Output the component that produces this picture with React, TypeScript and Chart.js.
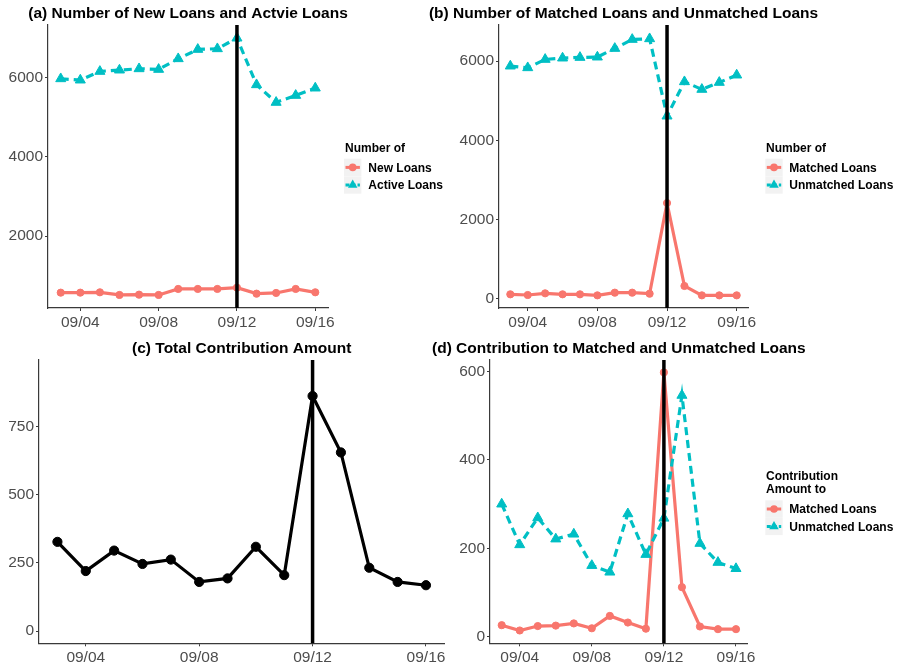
import React, { useEffect, useRef } from 'react';
import { Chart, registerables } from 'chart.js';

Chart.register(...registerables);

// ---------------- data ----------------
const dates = ['09/03', '09/04', '09/05', '09/06', '09/07', '09/08', '09/09', '09/10', '09/11', '09/12', '09/13', '09/14', '09/15', '09/16'];
const xTickLabels = ['09/04', '09/08', '09/12', '09/16'];
const eventDate = '09/12';

const newLoans = [571, 571, 580, 513, 521, 513, 664, 664, 664, 697, 546, 563, 664, 580];
const activeLoans = [5966, 5933, 6151, 6185, 6218, 6202, 6471, 6706, 6723, 6992, 5815, 5370, 5546, 5731];

const matchedLoans = [118, 101, 143, 118, 118, 92, 160, 160, 134, 2420, 328, 92, 92, 92];
const unmatchedLoans = [5874, 5832, 6042, 6076, 6092, 6101, 6319, 6546, 6563, 4613, 5479, 5286, 5462, 5647];

const totalContribution = [327, 220, 295, 246, 262, 180, 193, 309, 205, 862, 655, 232, 180, 168];

const matchedContribution = [26, 14, 24, 25, 30, 19, 47, 32, 18, 598, 112, 23, 17, 17];
const unmatchedContribution = [300, 208, 269, 221, 232, 161, 146, 278, 186, 268, 546, 211, 168, 154];

const yTicksA = [2000, 4000, 6000];
const yTicksB = [0, 2000, 4000, 6000];
const yTicksC = [0, 250, 500, 750];
const yTicksD = [0, 200, 400, 600];

// ---------------- styling ----------------
const RED = '#F8766D';
const TEAL = '#00BFC4';
const FAMILY = '"Liberation Sans", Arial, Helvetica, sans-serif';
const AXIS_COLOR = '#3a3a3a';
const TICK_TEXT = '#4D4D4D';
const TICK_SIZE = 15.5;
const X_MIN = 2.35;
const X_MAX = 16.65;

const dayOf = (d: string) => parseInt(d.split('/')[1], 10);

type Series = {
  label: string;
  values: number[];
  color: string;
  shape: 'circle' | 'triangle';
  dashed: boolean;
  radius: number;
};

type LegendCfg = {
  titleLines: string[];
  titleX: number;
  titleBaselines: number[];
  keyLeft: number;
  labelX: number;
  itemBaselines: number[];
};

type PanelCfg = {
  title: string;
  series: Series[];
  yMin: number;
  yMax: number;
  yTicks: number[];
  box: { left: number; top: number; width: number; height: number };
  area: { left: number; right: number; top: number; bottom: number };
  titleBaseline: number;
  legend?: LegendCfg;
};

function drawMarker(ctx: CanvasRenderingContext2D, shape: string, x: number, y: number, r: number, color: string) {
  ctx.fillStyle = color;
  ctx.beginPath();
  if (shape === 'circle') {
    ctx.arc(x, y, r, 0, Math.PI * 2);
  } else {
    const h = r * 1.5;
    const w = r * 1.732;
    ctx.moveTo(x, y - r);
    ctx.lineTo(x + w / 2, y - r + h);
    ctx.lineTo(x - w / 2, y - r + h);
    ctx.closePath();
  }
  ctx.fill();
}

function makeDecorPlugin(cfg: PanelCfg) {
  return {
    id: 'panelDecor',
    afterDatasetsDraw(chart: any) {
      const { ctx, chartArea, scales } = chart;
      const x = scales.x.getPixelForValue(dayOf(eventDate));
      ctx.save();
      ctx.strokeStyle = '#000';
      ctx.lineWidth = 3.5;
      ctx.setLineDash([]);
      ctx.beginPath();
      ctx.moveTo(x, chartArea.top);
      ctx.lineTo(x, chartArea.bottom);
      ctx.stroke();
      ctx.restore();
    },
    afterDraw(chart: any) {
      const { ctx, chartArea } = chart;
      ctx.save();
      // title
      ctx.font = `bold 15.5px ${FAMILY}`;
      ctx.fillStyle = '#000';
      ctx.textAlign = 'center';
      ctx.textBaseline = 'alphabetic';
      ctx.fillText(cfg.title, (chartArea.left + chartArea.right) / 2, cfg.titleBaseline);

      // legend
      const lg = cfg.legend;
      if (lg) {
        ctx.font = `bold 12px ${FAMILY}`;
        ctx.textAlign = 'left';
        lg.titleLines.forEach((t, i) => ctx.fillText(t, lg.titleX, lg.titleBaselines[i]));
        const keySize = 17.4;
        cfg.series.forEach((s, i) => {
          const cy = lg.itemBaselines[i] - 4.3;
          ctx.fillStyle = '#F2F2F2';
          ctx.fillRect(lg.keyLeft, cy - keySize / 2, keySize, keySize);
          ctx.strokeStyle = s.color;
          ctx.lineWidth = 3;
          ctx.setLineDash(s.dashed ? [4, 2] : []);
          ctx.beginPath();
          ctx.moveTo(lg.keyLeft + 1.5, cy);
          ctx.lineTo(lg.keyLeft + keySize - 1.5, cy);
          ctx.stroke();
          ctx.setLineDash([]);
          drawMarker(ctx, s.shape, lg.keyLeft + keySize / 2, cy, s.shape === 'circle' ? 3.8 : 5.5, s.color);
          ctx.fillStyle = '#000';
          ctx.fillText(s.label, lg.labelX, lg.itemBaselines[i]);
        });
      }
      ctx.restore();
    },
  };
}

function buildConfig(cfg: PanelCfg): any {
  const datasets = cfg.series.map((s, si) => ({
    label: s.label,
    data: dates.map((d, i) => ({ x: dayOf(d), y: s.values[i] })),
    borderColor: s.color,
    backgroundColor: s.color,
    borderWidth: 3.2,
    borderDash: s.dashed ? [8, 5] : [],
    pointStyle: s.shape,
    pointRadius: s.radius,
    pointBorderWidth: 1,
    pointBorderColor: s.color,
    pointBackgroundColor: s.color,
    tension: 0,
    order: cfg.series.length - si,
  }));

  const xH = cfg.box.height - cfg.area.bottom;
  const yW = cfg.area.left;

  return {
    type: 'line',
    data: { datasets },
    plugins: [makeDecorPlugin(cfg)],
    options: {
      animation: false,
      responsive: false,
      devicePixelRatio: 1,
      events: [],
      layout: {
        padding: { left: 0, top: cfg.area.top, right: cfg.box.width - cfg.area.right, bottom: 0 },
      },
      plugins: {
        legend: { display: false },
        title: { display: false },
        tooltip: { enabled: false },
      },
      scales: {
        x: {
          type: 'linear',
          min: X_MIN,
          max: X_MAX,
          afterBuildTicks: (scale: any) => {
            scale.ticks = xTickLabels.map((l) => ({ value: dayOf(l) }));
          },
          afterFit: (scale: any) => {
            scale.height = xH;
          },
          ticks: {
            callback: (v: number) => {
              const f = xTickLabels.find((l) => dayOf(l) === v);
              return f ?? '';
            },
            font: { family: FAMILY, size: TICK_SIZE },
            color: TICK_TEXT,
            padding: 2,
            maxRotation: 0,
            autoSkip: false,
          },
          grid: { drawOnChartArea: false, drawTicks: true, tickLength: 3, color: AXIS_COLOR, lineWidth: 1 },
          border: { display: true, color: AXIS_COLOR, width: 1.2 },
        },
        y: {
          type: 'linear',
          min: cfg.yMin,
          max: cfg.yMax,
          afterBuildTicks: (scale: any) => {
            scale.ticks = cfg.yTicks.map((v) => ({ value: v }));
          },
          afterFit: (scale: any) => {
            scale.width = yW;
          },
          ticks: {
            callback: (v: number) => String(v),
            font: { family: FAMILY, size: TICK_SIZE },
            color: TICK_TEXT,
            padding: 2,
          },
          grid: { drawOnChartArea: false, drawTicks: true, tickLength: 3, color: AXIS_COLOR, lineWidth: 1 },
          border: { display: true, color: AXIS_COLOR, width: 1.2 },
        },
      },
    },
  };
}

// Right-hand panels start 50px further left so that their centred titles can
// overhang into the left column (the canvases are transparent).
const panels: PanelCfg[] = [
  {
    title: '(a) Number of New Loans and Actvie Loans',
    series: [
      { label: 'New Loans', values: newLoans, color: RED, shape: 'circle', dashed: false, radius: 3.6 },
      { label: 'Active Loans', values: activeLoans, color: TEAL, shape: 'triangle', dashed: true, radius: 5.8 },
    ],
    yMin: 184,
    yMax: 7322,
    yTicks: yTicksA,
    box: { left: 0, top: 0, width: 450, height: 330 },
    area: { left: 48, right: 328, top: 25, bottom: 308 },
    titleBaseline: 18.3,
    legend: {
      titleLines: ['Number of'],
      titleX: 345,
      titleBaselines: [152.3],
      keyLeft: 344,
      labelX: 368.3,
      itemBaselines: [171.7, 189.3],
    },
  },
  {
    title: '(b) Number of Matched Loans and Unmatched Loans',
    series: [
      { label: 'Matched Loans', values: matchedLoans, color: RED, shape: 'circle', dashed: false, radius: 3.6 },
      { label: 'Unmatched Loans', values: unmatchedLoans, color: TEAL, shape: 'triangle', dashed: true, radius: 5.8 },
    ],
    yMin: -227,
    yMax: 6910,
    yTicks: yTicksB,
    box: { left: 400, top: 0, width: 499, height: 330 },
    area: { left: 99, right: 348, top: 25, bottom: 308 },
    titleBaseline: 18.3,
    legend: {
      titleLines: ['Number of'],
      titleX: 366,
      titleBaselines: [152.3],
      keyLeft: 365.3,
      labelX: 389.3,
      itemBaselines: [171.7, 189.3],
    },
  },
  {
    title: '(c) Total Contribution Amount',
    series: [
      { label: 'Total', values: totalContribution, color: '#000000', shape: 'circle', dashed: false, radius: 4.6 },
    ],
    yMin: -45,
    yMax: 994,
    yTicks: yTicksC,
    box: { left: 0, top: 330, width: 450, height: 336 },
    area: { left: 39, right: 447, top: 30, bottom: 313.3 },
    titleBaseline: 23,
  },
  {
    title: '(d) Contribution to Matched and Unmatched Loans',
    series: [
      { label: 'Matched Loans', values: matchedContribution, color: RED, shape: 'circle', dashed: false, radius: 3.6 },
      { label: 'Unmatched Loans', values: unmatchedContribution, color: TEAL, shape: 'triangle', dashed: true, radius: 5.8 },
    ],
    yMin: -15,
    yMax: 626,
    yTicks: yTicksD,
    box: { left: 400, top: 330, width: 499, height: 336 },
    area: { left: 90, right: 347.7, top: 30, bottom: 313.3 },
    titleBaseline: 23,
    legend: {
      titleLines: ['Contribution', 'Amount to'],
      titleX: 366,
      titleBaselines: [150, 162.7],
      keyLeft: 365.3,
      labelX: 389.3,
      itemBaselines: [183.3, 200.7],
    },
  },
];

function Panel({ cfg }: { cfg: PanelCfg }) {
  const ref = useRef<HTMLCanvasElement>(null);
  useEffect(() => {
    if (!ref.current) return;
    const chart = new Chart(ref.current, buildConfig(cfg));
    return () => chart.destroy();
  }, [cfg]);
  return (
    <canvas
      ref={ref}
      width={cfg.box.width}
      height={cfg.box.height}
      style={{
        position: 'absolute',
        left: cfg.box.left,
        top: cfg.box.top,
        width: cfg.box.width,
        height: cfg.box.height,
        display: 'block',
      }}
    />
  );
}

export default function App() {
  return (
    <div
      style={{
        position: 'absolute',
        left: 0,
        top: 0,
        width: 899,
        height: 666,
        background: '#ffffff',
        overflow: 'hidden',
      }}
    >
      {panels.map((p, i) => (
        <Panel key={i} cfg={p} />
      ))}
    </div>
  );
}
